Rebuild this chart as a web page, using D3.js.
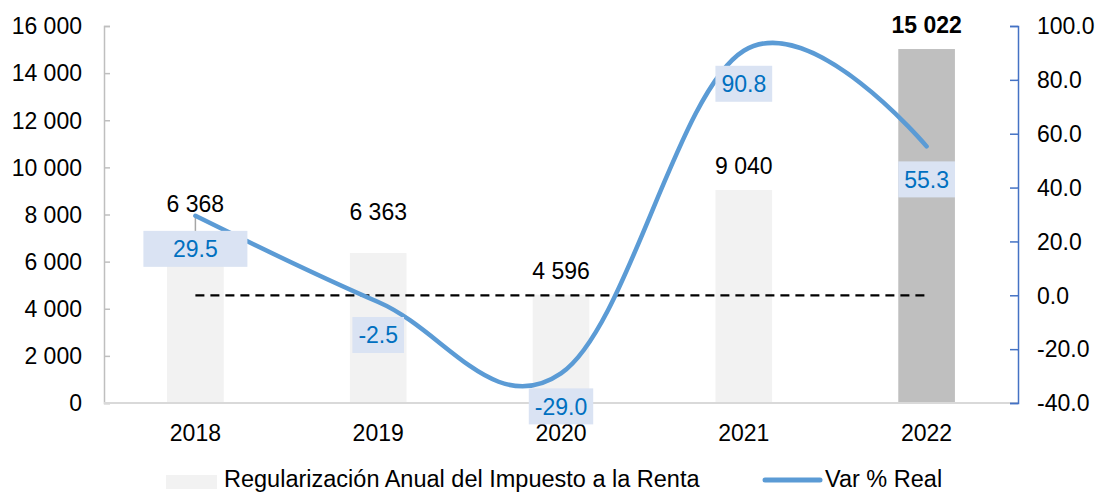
<!DOCTYPE html>
<html>
<head>
<meta charset="utf-8">
<script src="https://cdn.jsdelivr.net/npm/d3@7"></script>
<style>
  body { margin: 0; background: #fff; }
  svg { font-family: "Liberation Sans", Arial, sans-serif; }
</style>
</head>
<body>
<div id="chart"></div>
<script>
var years = ["2018", "2019", "2020", "2021", "2022"];
var amounts = [6368, 6363, 4596, 9040, 15022];
var varReal = [29.5, -2.5, -29.0, 90.8, 55.3];
var leftTicks = [0, 2000, 4000, 6000, 8000, 10000, 12000, 14000, 16000];
var rightTicks = [-40, -20, 0, 20, 40, 60, 80, 100];
var seriesNames = ["Regularización Anual del Impuesto a la Renta", "Var % Real"];

var width = 1101, height = 493;
var plotLeft = 104, plotRight = 1018, plotTop = 26, plotBottom = 403;

var loc = d3.formatLocale({decimal: ".", thousands: " ", grouping: [3], currency: ["", ""], minus: "-"});
var fmtInt = loc.format(",d");
var fmtPct = loc.format(".1f");

var svg = d3.select("#chart").append("svg")
  .attr("width", width)
  .attr("height", height);

var x = d3.scaleBand().domain(years).range([plotLeft, plotRight]);
var yL = d3.scaleLinear().domain([0, 16000]).range([plotBottom, plotTop]);
var yR = d3.scaleLinear().domain([-40, 100]).range([plotBottom, plotTop]);
var cx = function(d) { return x(d) + x.bandwidth() / 2; };
var barW = x.bandwidth() * 0.31;

// bars
svg.selectAll(".bar")
  .data(amounts)
  .enter()
  .append("rect")
  .attr("class", "bar")
  .attr("x", function(d, i) { return cx(years[i]) - barW / 2; })
  .attr("y", function(d) { return yL(d); })
  .attr("width", barW)
  .attr("height", function(d) { return plotBottom - yL(d); })
  .attr("fill", function(d, i) { return i == years.length - 1 ? "#bfbfbf" : "#f2f2f2"; });

// left axis
var axL = svg.append("g")
  .attr("transform", "translate(" + plotLeft + ",0)")
  .call(d3.axisRight(yL).tickValues(leftTicks).tickSize(6).tickFormat(""));
axL.select(".domain").attr("stroke", "#bfbfbf").attr("stroke-width", 1.5);
axL.selectAll(".tick line").attr("stroke", "#bfbfbf").attr("stroke-width", 1.5);

svg.selectAll(".ltick")
  .data(leftTicks)
  .enter()
  .append("text")
  .attr("x", 82)
  .attr("y", function(d) { return yL(d); })
  .attr("dy", "0.36em")
  .attr("text-anchor", "end")
  .style("font-size", "23px")
  .text(function(d) { return fmtInt(d); });

// bottom axis
svg.append("line")
  .attr("x1", plotLeft).attr("x2", plotRight)
  .attr("y1", plotBottom).attr("y2", plotBottom)
  .attr("stroke", "#d9d9d9").attr("stroke-width", 2);

svg.selectAll(".xlab")
  .data(years)
  .enter()
  .append("text")
  .attr("x", function(d) { return cx(d); })
  .attr("y", 441)
  .attr("text-anchor", "middle")
  .style("font-size", "23px")
  .text(function(d) { return d; });

// right axis
var axR = svg.append("g")
  .attr("transform", "translate(" + plotRight + ",0)")
  .call(d3.axisLeft(yR).tickValues(rightTicks).tickSize(8).tickFormat(""));
axR.select(".domain").attr("stroke", "#4472c4").attr("stroke-width", 1.5);
axR.selectAll(".tick line").attr("stroke", "#4472c4").attr("stroke-width", 1.5);

svg.selectAll(".rtick")
  .data(rightTicks)
  .enter()
  .append("text")
  .attr("x", 1037)
  .attr("y", function(d) { return yR(d); })
  .attr("dy", "0.36em")
  .style("font-size", "23px")
  .text(function(d) { return fmtPct(d); });

// zero reference line
svg.append("line")
  .attr("x1", cx(years[0])).attr("x2", cx(years[years.length - 1]))
  .attr("y1", yR(0)).attr("y2", yR(0))
  .attr("stroke", "#000").attr("stroke-width", 2.2)
  .attr("stroke-dasharray", "9,6");

// leader line for first bar label
svg.append("line")
  .attr("x1", cx(years[0])).attr("x2", cx(years[0]))
  .attr("y1", yR(varReal[0])).attr("y2", yR(varReal[0]) + 16)
  .attr("stroke", "#a6a6a6").attr("stroke-width", 1.5);

// line
var line = d3.line()
  .x(function(d, i) { return cx(years[i]); })
  .y(function(d) { return yR(d); })
  .curve(d3.curveCardinal.tension(-0.1));

svg.append("path")
  .datum(varReal)
  .attr("fill", "none")
  .attr("stroke", "#5b9bd5")
  .attr("stroke-width", 4.5)
  .attr("stroke-linecap", "round")
  .attr("d", line);

// bar value labels
svg.selectAll(".blab")
  .data(amounts)
  .enter()
  .append("text")
  .attr("x", function(d, i) { return cx(years[i]); })
  .attr("y", function(d, i) {
    if (i == 0) return yR(varReal[0]) - 4;
    if (i == 1) return yL(d) - 33;
    return yL(d) - 16;
  })
  .attr("text-anchor", "middle")
  .style("font-size", "23px")
  .style("font-weight", function(d, i) { return i == years.length - 1 ? "bold" : "normal"; })
  .text(function(d) { return fmtInt(d); });

// line value labels
var lab = svg.selectAll(".vlab")
  .data(varReal)
  .enter()
  .append("g")
  .attr("transform", function(d, i) { return "translate(" + cx(years[i]) + "," + (yR(d) + 33) + ")"; });

lab.append("text")
  .attr("text-anchor", "middle")
  .attr("dy", "0.36em")
  .attr("fill", "#0070c0")
  .style("font-size", "23px")
  .text(function(d) { return fmtPct(d); });

lab.each(function(d, i) {
  var g = d3.select(this);
  var bb = g.select("text").node().getBBox();
  var w = i == 0 ? 104 : bb.width + 12;
  g.insert("rect", "text")
    .attr("x", -w / 2)
    .attr("y", -18)
    .attr("width", w)
    .attr("height", 36)
    .attr("fill", "#dae3f3");
});

// legend
var lg = svg.append("g");
lg.append("rect")
  .attr("x", 166).attr("y", 475).attr("width", 51).attr("height", 14)
  .attr("fill", "#f2f2f2");
lg.append("text")
  .attr("x", 224).attr("y", 487)
  .style("font-size", "23.5px")
  .text(seriesNames[0]);
lg.append("line")
  .attr("x1", 765).attr("x2", 820).attr("y1", 480).attr("y2", 480)
  .attr("stroke", "#5b9bd5").attr("stroke-width", 5)
  .attr("stroke-linecap", "round");
lg.append("text")
  .attr("x", 825).attr("y", 487)
  .style("font-size", "23.5px")
  .text(seriesNames[1]);
</script>
</body>
</html>
